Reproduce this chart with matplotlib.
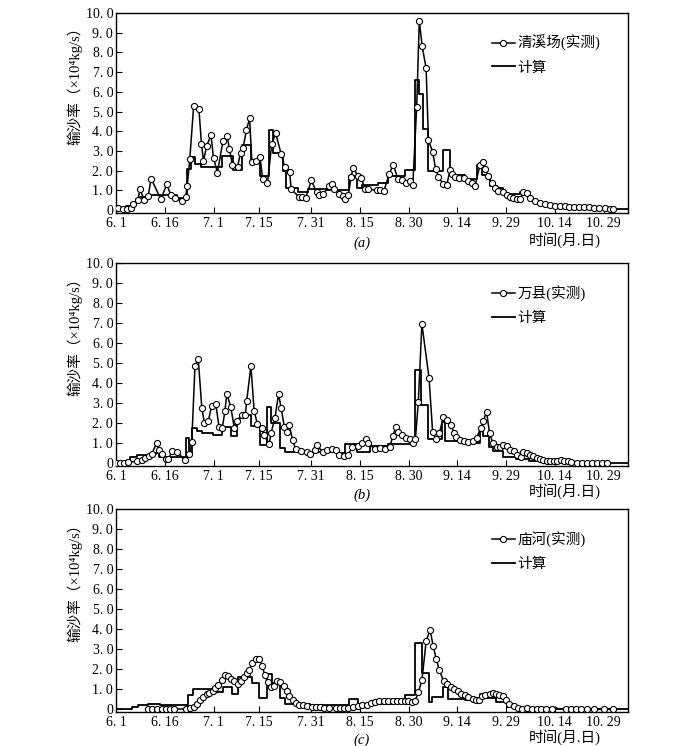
import numpy as np
import matplotlib
matplotlib.use('Agg')
import matplotlib.pyplot as plt

plt.rcParams['font.family'] = ['Liberation Serif', 'Noto Sans CJK SC', 'DejaVu Sans']

# x = days counted from 6.1
tick_days   = [0, 15, 30, 44, 60, 75, 90, 105, 120, 135, 150]
tick_labels = ['6. 1', '6. 16', '7. 1', '7. 15', '7. 31', '8. 15', '8. 30',
               '9. 14', '9. 29', '10. 14', '10. 29']
ytick_vals   = [0, 1, 2, 3, 4, 5, 6, 7, 8, 9, 10]
ytick_labels = ['0', '1. 0', '2. 0', '3. 0', '4. 0', '5. 0', '6. 0', '7. 0',
                '8. 0', '9. 0', '10. 0']

station_names = ['清溪场(实测)', '万县(实测)', '庙河(实测)']
panel_tags    = ['(a)', '(b)', '(c)']

# ---- (a) 清溪场 measured
a_obs_d = [0.7, 2, 3.3, 4.5, 5.1, 6.7, 7.4, 8.7, 9.9, 10.8,
           13.8, 15.6, 16.9, 18.2, 20.2, 21.4, 21.9, 22.7, 23.9, 25.5,
           26.3, 26.9, 27.9, 29.2, 30.0, 31.2, 32.9, 34.2, 34.9, 35.8,
           37.4, 38.3, 39.1, 40.1, 41.1, 41.8, 43.0, 44.3, 45.1, 46.6,
           47.9, 49.1, 50.8, 51.9, 53.4, 53.9, 56.4, 57.3, 58.3, 60.1,
           61.7, 62.5, 63.7, 65.5, 66.3, 67.1, 68.7, 69.9, 70.5, 71.5,
           72.3, 73.0, 74.3, 75.4, 76.6, 77.6, 80.2, 81.2, 82.4, 84.1,
           85.3, 86.7, 87.9, 89.1, 90.3, 91.3, 92.5, 93.3, 94.2, 95.4,
           96.1, 97.4, 98.3, 99.2, 100.7, 101.7, 102.8, 103.5, 104.3, 105.6,
           106.9, 108.4, 109.4, 110.4, 112.0, 112.8, 113.5, 114.5, 115.6, 116.6,
           117.6, 119.2, 120.2, 121.2, 122.2, 123.3, 124.3, 125.3, 126.3, 127.4,
           128.9, 130.4, 131.9, 133.5, 135.0, 136.5, 138.0, 139.5, 141.0, 142.5,
           144.0, 145.5, 147.0, 148.5, 150.5, 152.0, 153.0]
a_obs_v = [0.1, 0.05, 0.05, 0.12, 0.3, 0.5, 1.05, 0.5, 0.7, 1.6,
           0.55, 1.3, 0.75, 0.6, 0.45, 0.65, 1.2, 2.6, 5.3, 5.15,
           3.35, 2.5, 3.25, 3.8, 2.65, 1.9, 3.5, 3.75, 3.1, 2.3,
           2.2, 2.9, 3.15, 4.05, 4.65, 2.45, 2.5, 2.7, 1.6, 1.35,
           3.35, 3.9, 2.85, 2.2, 1.95, 1.05, 0.65, 0.65, 0.6, 1.5,
           0.9, 0.75, 0.8, 1.2, 1.3, 1.05, 0.8, 0.7, 0.55, 0.75,
           1.7, 2.15, 1.75, 1.65, 1.05, 1.05, 1.0, 1.0, 0.97, 1.85,
           2.3, 1.6, 1.5, 1.35, 1.45, 1.25, 5.25, 9.6, 8.3, 7.2,
           3.55, 2.95, 2.1, 1.7, 1.3, 1.25, 2.05, 1.85, 1.7, 1.62,
           1.62, 1.48, 1.38, 1.2, 2.3, 2.45, 2.1, 1.75, 1.35, 1.12,
           0.95, 0.9, 0.75, 0.67, 0.62, 0.57, 0.55, 0.92, 0.88, 0.62,
           0.45, 0.38, 0.3, 0.26, 0.22, 0.2, 0.18, 0.17, 0.15, 0.14,
           0.13, 0.13, 0.12, 0.12, 0.1, 0.07, 0.05]
# (a) computed, step edges / levels
a_cal_e = [0, 3, 4.5, 6, 7.5, 10.5, 18.7, 21.7, 23.0, 24.3,
           26.2, 32.5, 36.1, 38.7, 41.4, 44.3, 47.2, 48.4, 51.3, 52.3,
           56.1, 59.1, 64.8, 71.7, 74.1, 75.6, 80.7, 83.8, 88.9, 92.0,
           93.3, 94.3, 96.1, 100.5, 102.6, 107.4, 111.0, 112.6, 115.1, 117.1,
           119.2, 124.3, 127.4, 129, 131, 134, 138, 142, 147, 152, 157.5]
a_cal_v = [0.05, 0.2, 0.35, 0.55, 0.65, 0.75, 0.6, 2.1, 2.7, 2.35,
           2.2, 2.75, 2.05, 3.3, 2.55, 1.75, 4.05, 2.9, 2.0, 1.1,
           0.9, 1.05, 1.0, 1.75, 1.1, 1.25, 1.35, 1.75, 2.05, 6.6,
           5.9, 4.1, 2.0, 3.05, 1.8, 1.6, 2.3, 1.8, 1.2, 1.1,
           0.8, 0.9, 0.5, 0.4, 0.3, 0.22, 0.17, 0.13, 0.1, 0.05]

# ---- (b) 万县 measured
b_obs_d = [0, 1.2, 2.5, 3.7, 6.6, 7.9, 8.9, 10.3, 11.0, 12.5,
           13.1, 14.0, 15.4, 16.1, 17.3, 18.9, 21.2, 22.6, 23.3, 24.3,
           25.3, 26.4, 27.2, 28.4, 29.4, 30.7, 31.7, 32.7, 33.5, 34.1,
           35.3, 36.4, 37.1, 38.7, 39.8, 40.2, 41.5, 42.5, 43.5, 44.8,
           45.5, 47.1, 47.7, 48.9, 50.0, 50.8, 51.8, 52.5, 53.3, 54.3,
           55.3, 56.8, 58.7, 59.8, 61.2, 61.8, 63.6, 64.8, 66.4, 67.7,
           68.7, 70.2, 71.5, 72.7, 74.3, 75.6, 76.8, 77.6, 79.7, 81.2,
           82.8, 84.3, 85.1, 86.1, 86.9, 87.9, 89.1, 90.3, 91.3, 92.1,
           93.0, 94.1, 96.3, 97.4, 98.5, 99.5, 100.7, 101.7, 103.0, 104.0,
           104.6, 105.8, 107.2, 108.4, 109.7, 110.9, 112.2, 113.0, 114.0, 114.9,
           115.9, 117.1, 118.2, 119.2, 120.2, 121.2, 122.3, 123.5, 124.5, 125.3,
           126.3, 127.4, 128.4, 129.4, 130.5, 131.5, 132.5, 133.6, 134.6, 135.6,
           136.8, 137.8, 138.9, 140.1, 141.7, 143.5, 145.0, 146.5, 148.0, 149.5,
           151.0]
b_obs_v = [0, 0, 0, 0.03, 0.1, 0.17, 0.25, 0.33, 0.46, 1.0,
           0.66, 0.45, 0.21, 0.21, 0.58, 0.55, 0.13, 0.45, 1.05, 4.85,
           5.2, 2.75, 2.0, 2.1, 2.85, 2.95, 1.8, 1.75, 2.6, 3.45,
           2.8, 1.75, 2.1, 2.4, 2.4, 3.1, 4.85, 2.6, 1.95, 1.75,
           1.4, 0.95, 1.5, 2.25, 3.45, 2.75, 1.8, 1.55, 1.9, 1.15,
           0.68, 0.62, 0.55, 0.45, 0.66, 0.88, 0.55, 0.65, 0.72, 0.65,
           0.38, 0.33, 0.42, 0.8, 0.85, 1.0, 1.2, 1.0, 0.68, 0.75,
           0.68, 0.8, 1.35, 1.78, 1.55, 1.38, 1.25, 1.2, 1.0, 1.2,
           3.05, 6.95, 4.25, 1.55, 1.2, 1.52, 2.28, 2.15, 1.9, 1.5,
           1.28, 1.15, 1.1, 1.07, 1.1, 1.25, 1.75, 2.12, 2.55, 1.5,
           1.0, 0.8, 0.78, 0.92, 0.83, 0.66, 0.58, 0.42, 0.28, 0.55,
           0.5, 0.42, 0.33, 0.25, 0.2, 0.17, 0.12, 0.08, 0.08, 0.08,
           0.13, 0.12, 0.12, 0.05, 0.02, 0.02, 0.02, 0.02, 0.02, 0.02,
           0.02]
b_cal_e = [0, 4.3, 6.6, 10.0, 12.3, 13.3, 21.5, 22.6, 23.3, 24.8,
           26.6, 29.9, 32.7, 35.3, 37.1, 38.1, 41.5, 44.3, 46.6, 47.7,
           50.5, 52.0, 68.0, 70.5, 74.0, 78.2, 83.8, 92.0, 93.8, 96.1,
           100.3, 101.3, 107.4, 112.0, 113.0, 114.6, 116.1, 119.2, 123, 127,
           131, 134, 157.5]
b_cal_v = [0.03, 0.3, 0.38, 0.45, 0.5, 0.3, 1.25, 0.45, 1.73, 1.6,
           1.5, 1.4, 1.78, 1.35, 2.2, 2.4, 1.83, 0.9, 2.8, 2.0,
           0.75, 0.55, 0.5, 0.95, 0.55, 0.85, 0.95, 4.65, 2.9, 1.2,
           2.05, 1.1, 1.0, 1.7, 1.35, 0.8, 0.6, 0.3, 0.2, 0.12,
           0.05, 0.02]

# ---- (c) 庙河 measured
c_obs_d = [9.9, 11.2, 12.5, 14.0, 15.4, 16.6, 17.9, 21.5, 22.8, 24.0,
           25.0, 25.8, 26.9, 27.9, 28.7, 29.7, 30.6, 31.5, 32.5, 33.5,
           34.4, 35.4, 36.4, 37.4, 38.4, 39.5, 40.2, 41.0, 41.9, 43.0,
           44.1, 45.0, 45.8, 46.7, 47.7, 48.7, 49.6, 50.6, 51.6, 52.5,
           53.3, 54.3, 55.3, 56.4, 57.6, 58.9, 60.2, 61.5, 62.7, 64.0,
           65.5, 67.7, 68.9, 70.2, 71.5, 73.0, 74.5, 75.6, 77.1, 78.5,
           79.7, 80.9, 82.3, 83.8, 85.1, 86.4, 87.6, 88.9, 89.9, 91.0,
           92.0, 93.0, 94.1, 95.4, 96.6, 97.6, 98.5, 99.4, 100.8, 101.7,
           103.0, 104.1, 105.1, 106.2, 107.4, 108.4, 109.7, 110.8, 111.8, 112.6,
           113.5, 114.9, 115.9, 116.9, 117.9, 119.0, 120.0, 121.0, 122.3, 123.6,
           124.8, 126.3, 127.9, 129.4, 130.8, 132.3, 134.0, 138.5, 140.0, 141.5,
           143.0, 145.0, 147.0, 150.0, 153.0]
c_obs_v = [0, 0, 0, 0, 0, 0, 0, 0, 0.03, 0.1,
           0.27, 0.43, 0.58, 0.77, 0.8, 0.88, 1.05, 1.22, 1.47, 1.72,
           1.63, 1.52, 1.38, 1.27, 1.42, 1.58, 1.8, 1.97, 2.3, 2.5,
           2.5, 2.13, 1.68, 1.33, 1.1, 1.15, 1.4, 1.35, 1.15, 0.9,
           0.65, 0.45, 0.3, 0.22, 0.18, 0.15, 0.12, 0.1, 0.1, 0.07,
           0.06, 0.05, 0.05, 0.05, 0.07, 0.1, 0.15, 0.18, 0.22, 0.3,
           0.35, 0.38, 0.38, 0.38, 0.38, 0.42, 0.38, 0.42, 0.38, 0.36,
           0.4, 0.83, 1.43, 3.38, 3.97, 3.13, 2.5, 1.97, 1.38, 1.25,
           1.1, 1.0, 0.88, 0.77, 0.68, 0.6, 0.52, 0.47, 0.47, 0.67,
           0.72, 0.77, 0.8, 0.77, 0.72, 0.63, 0.47, 0.27, 0.13, 0.05,
           0.0, 0.05, 0.02, 0.0, 0.0, 0.0, 0.0, 0.0, 0.0, 0.0,
           0.0, 0.0, 0.0, 0.0, 0.0]
c_cal_e = [0, 4.8, 6.9, 9.9, 13.5, 22.3, 23.8, 29.9, 32.8, 35.6,
           37.6, 41.7, 44.1, 46.6, 48.1, 50.5, 52.0, 59.7, 71.8, 74.4,
           85.0, 88.9, 92.0, 94.1, 96.3, 97.1, 100.7, 102.0, 107.4, 112.0,
           113.8, 117.0, 120.2, 124.5, 135.6, 157.5]
c_cal_v = [0.0, 0.1, 0.2, 0.25, 0.2, 0.7, 1.0, 0.85, 1.1, 0.75,
           1.6, 1.3, 0.55, 1.75, 1.3, 0.55, 0.25, 0.2, 0.5, 0.25,
           0.5, 0.7, 3.3, 1.8, 0.35, 0.6, 1.1, 0.5, 0.45, 0.75,
           0.55, 0.35, 0.12, 0.05, 0.0]

obs_d = [a_obs_d, b_obs_d, c_obs_d]
obs_v = [a_obs_v, b_obs_v, c_obs_v]
cal_e = [a_cal_e, b_cal_e, c_cal_e]
cal_v = [a_cal_v, b_cal_v, c_cal_v]

W, H = 696, 746
fig = plt.figure(figsize=(W / 100, H / 100), dpi=100)

# axes boxes in pixels: (top, bottom), plus y offsets of the (a)/(b)/(c) tag and the time label
boxes = [(13, 213), (263, 466), (509, 712)]
tag_y  = [-0.15, -0.143, -0.137]
time_y = [-0.135, -0.125, -0.123]
left_px, right_px = 116, 628

for i in range(3):
    top, bot = boxes[i]
    ax = fig.add_axes([left_px / W, 1 - bot / H, (right_px - left_px) / W, (bot - top) / H])

    x = np.array(obs_d[i])
    y = np.array(obs_v[i])
    ax.plot(x, y, '-o', color='black', lw=1.1, ms=4.4, mfc='white', mec='black',
            mew=0.8, label=station_names[i], zorder=3)

    e = np.array(cal_e[i])
    v = np.append(np.array(cal_v[i]), cal_v[i][-1])
    ax.step(e, v, where='post', color='black', lw=1.3, label='计算', zorder=2)

    ax.set_xlim(0, 157.5)
    ax.set_ylim(-0.15, 10)
    ax.set_xticks(tick_days)
    ax.set_xticklabels(tick_labels, fontsize=10)
    ax.set_yticks(ytick_vals)
    ax.set_yticklabels(ytick_labels, fontsize=10)
    ax.tick_params(direction='in', length=4, width=0.8, pad=3)
    ax.tick_params(axis='y', pad=2)
    for s in ax.spines.values():
        s.set_linewidth(1.0)

    ax.text(-0.08, 0.655, '输沙率（×10⁴kg/s）', transform=ax.transAxes, rotation=90,
            ha='center', va='center', fontsize=10.5)
    ax.text(0.48, tag_y[i], panel_tags[i], transform=ax.transAxes, ha='center',
            va='center', fontsize=10.5, fontstyle='italic')
    ax.text(0.877, time_y[i], '时间(月.日)', transform=ax.transAxes, ha='center',
            va='center', fontsize=10.5)

    ax.legend(loc='upper left', bbox_to_anchor=(0.734, 0.89), frameon=False,
              handlelength=1.6, handletextpad=0.15, labelspacing=0.7,
              borderpad=0, borderaxespad=0, fontsize=10.5)

fig.savefig('out.png', dpi=100)
